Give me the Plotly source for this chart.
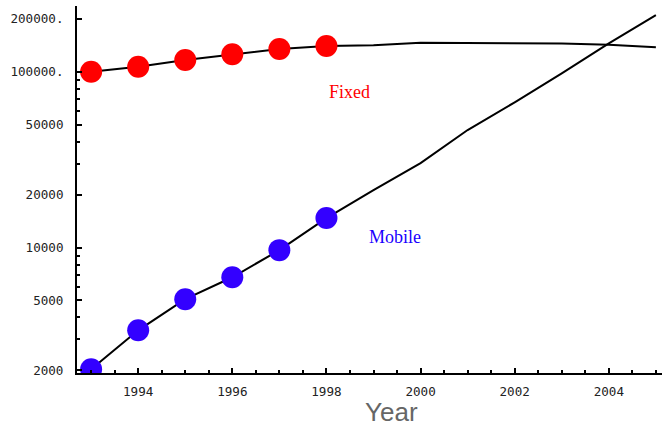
import plotly.graph_objects as go
import math

# --- data ---
point_years = [1993, 1994, 1995, 1996, 1997, 1998]
fixed_points = [100000, 106800, 116600, 125600, 134700, 140000]
mobile_points = [2030, 3380, 5080, 6770, 9660, 14700]

trend_years = [1993, 1994, 1995, 1996, 1997, 1998, 1999, 2000, 2001, 2002, 2003, 2004, 2005]
fixed_trend = [100000, 106800, 116600, 125600, 134700, 140000, 141600, 146000, 146000, 146000, 144800, 142600, 138000]
mobile_trend = [2030, 3380, 5080, 6770, 9660, 14700, 21200, 30200, 46600, 67000, 98000, 145000, 210000]

y_major = [2000, 5000, 10000, 20000, 50000, 100000, 200000]
y_major_text = ["2000", "5000", "10000", "20000", "50000", "100000.", "200000."]
y_minor = [3000, 4000, 6000, 7000, 8000, 9000, 30000, 40000, 60000, 70000, 80000, 90000]
x_major = [1994, 1996, 1998, 2000, 2002, 2004]

fig = go.Figure()

fig.add_trace(go.Scatter(x=trend_years, y=fixed_trend, mode="lines",
                         line=dict(color="black", width=2), showlegend=False, hoverinfo="skip"))
fig.add_trace(go.Scatter(x=trend_years, y=mobile_trend, mode="lines",
                         line=dict(color="black", width=2), showlegend=False, hoverinfo="skip"))
fig.add_trace(go.Scatter(x=point_years, y=fixed_points, mode="markers",
                         marker=dict(color="#ff0000", size=22), showlegend=False))
fig.add_trace(go.Scatter(x=point_years, y=mobile_points, mode="markers",
                         marker=dict(color="#3300ff", size=22), showlegend=False))

tickfont = dict(family="DejaVu Sans Mono", size=12.6, color="#222222")

plot_l, plot_r, plot_t, plot_b = 77, 0, 6, 56
W, H = 662, 429
plot_w = W - plot_l - plot_r
plot_h = H - plot_t - plot_b

fig.update_layout(
    width=W, height=H,
    margin=dict(l=plot_l, r=plot_r, t=plot_t, b=plot_b),
    paper_bgcolor="white", plot_bgcolor="white",
    xaxis=dict(
        range=[1992.7, 2005.13],
        showgrid=False, zeroline=False,
        showline=True, linecolor="black", linewidth=2,
        tickmode="array", tickvals=x_major, ticktext=[str(v) for v in x_major],
        ticks="inside", ticklen=5, tickwidth=1.5, tickcolor="black",
        tickfont=tickfont, ticklabelstandoff=6,
        minor=dict(dtick=0.5, tick0=1993, ticks="inside", ticklen=3,
                   tickwidth=1.5, tickcolor="black", showgrid=False),
    ),
    yaxis=dict(
        type="log",
        range=[3.286, 5.374],
        showgrid=False, zeroline=False,
        showline=True, linecolor="black", linewidth=2,
        tickmode="array", tickvals=y_major, ticktext=y_major_text,
        ticks="inside", ticklen=5, tickwidth=1.5, tickcolor="black",
        tickfont=tickfont, ticklabelstandoff=9,
        minor=dict(tickmode="array", tickvals=y_minor, ticks="inside", ticklen=3,
                   tickwidth=1.5, tickcolor="black", showgrid=False),
    ),
    annotations=[
        dict(x=1998.5, y=math.log10(76600), xref="x", yref="y", text="Fixed",
             showarrow=False, font=dict(family="Liberation Serif", size=18, color="#ff0000")),
        dict(x=1999.45, y=math.log10(11490), xref="x", yref="y", text="Mobile",
             showarrow=False, font=dict(family="Liberation Serif", size=18, color="#1a00ff")),
        dict(x=(391 - plot_l) / plot_w, y=(H - plot_b - 412) / plot_h,
             xref="paper", yref="paper", text="Year", showarrow=False,
             yanchor="middle",
             font=dict(family="Liberation Sans", size=26, color="#666666")),
    ],
)

fig.write_html("out.html",
               config={"displayModeBar": False},
               post_script="document.body.style.margin='0';document.body.style.padding='0';")
